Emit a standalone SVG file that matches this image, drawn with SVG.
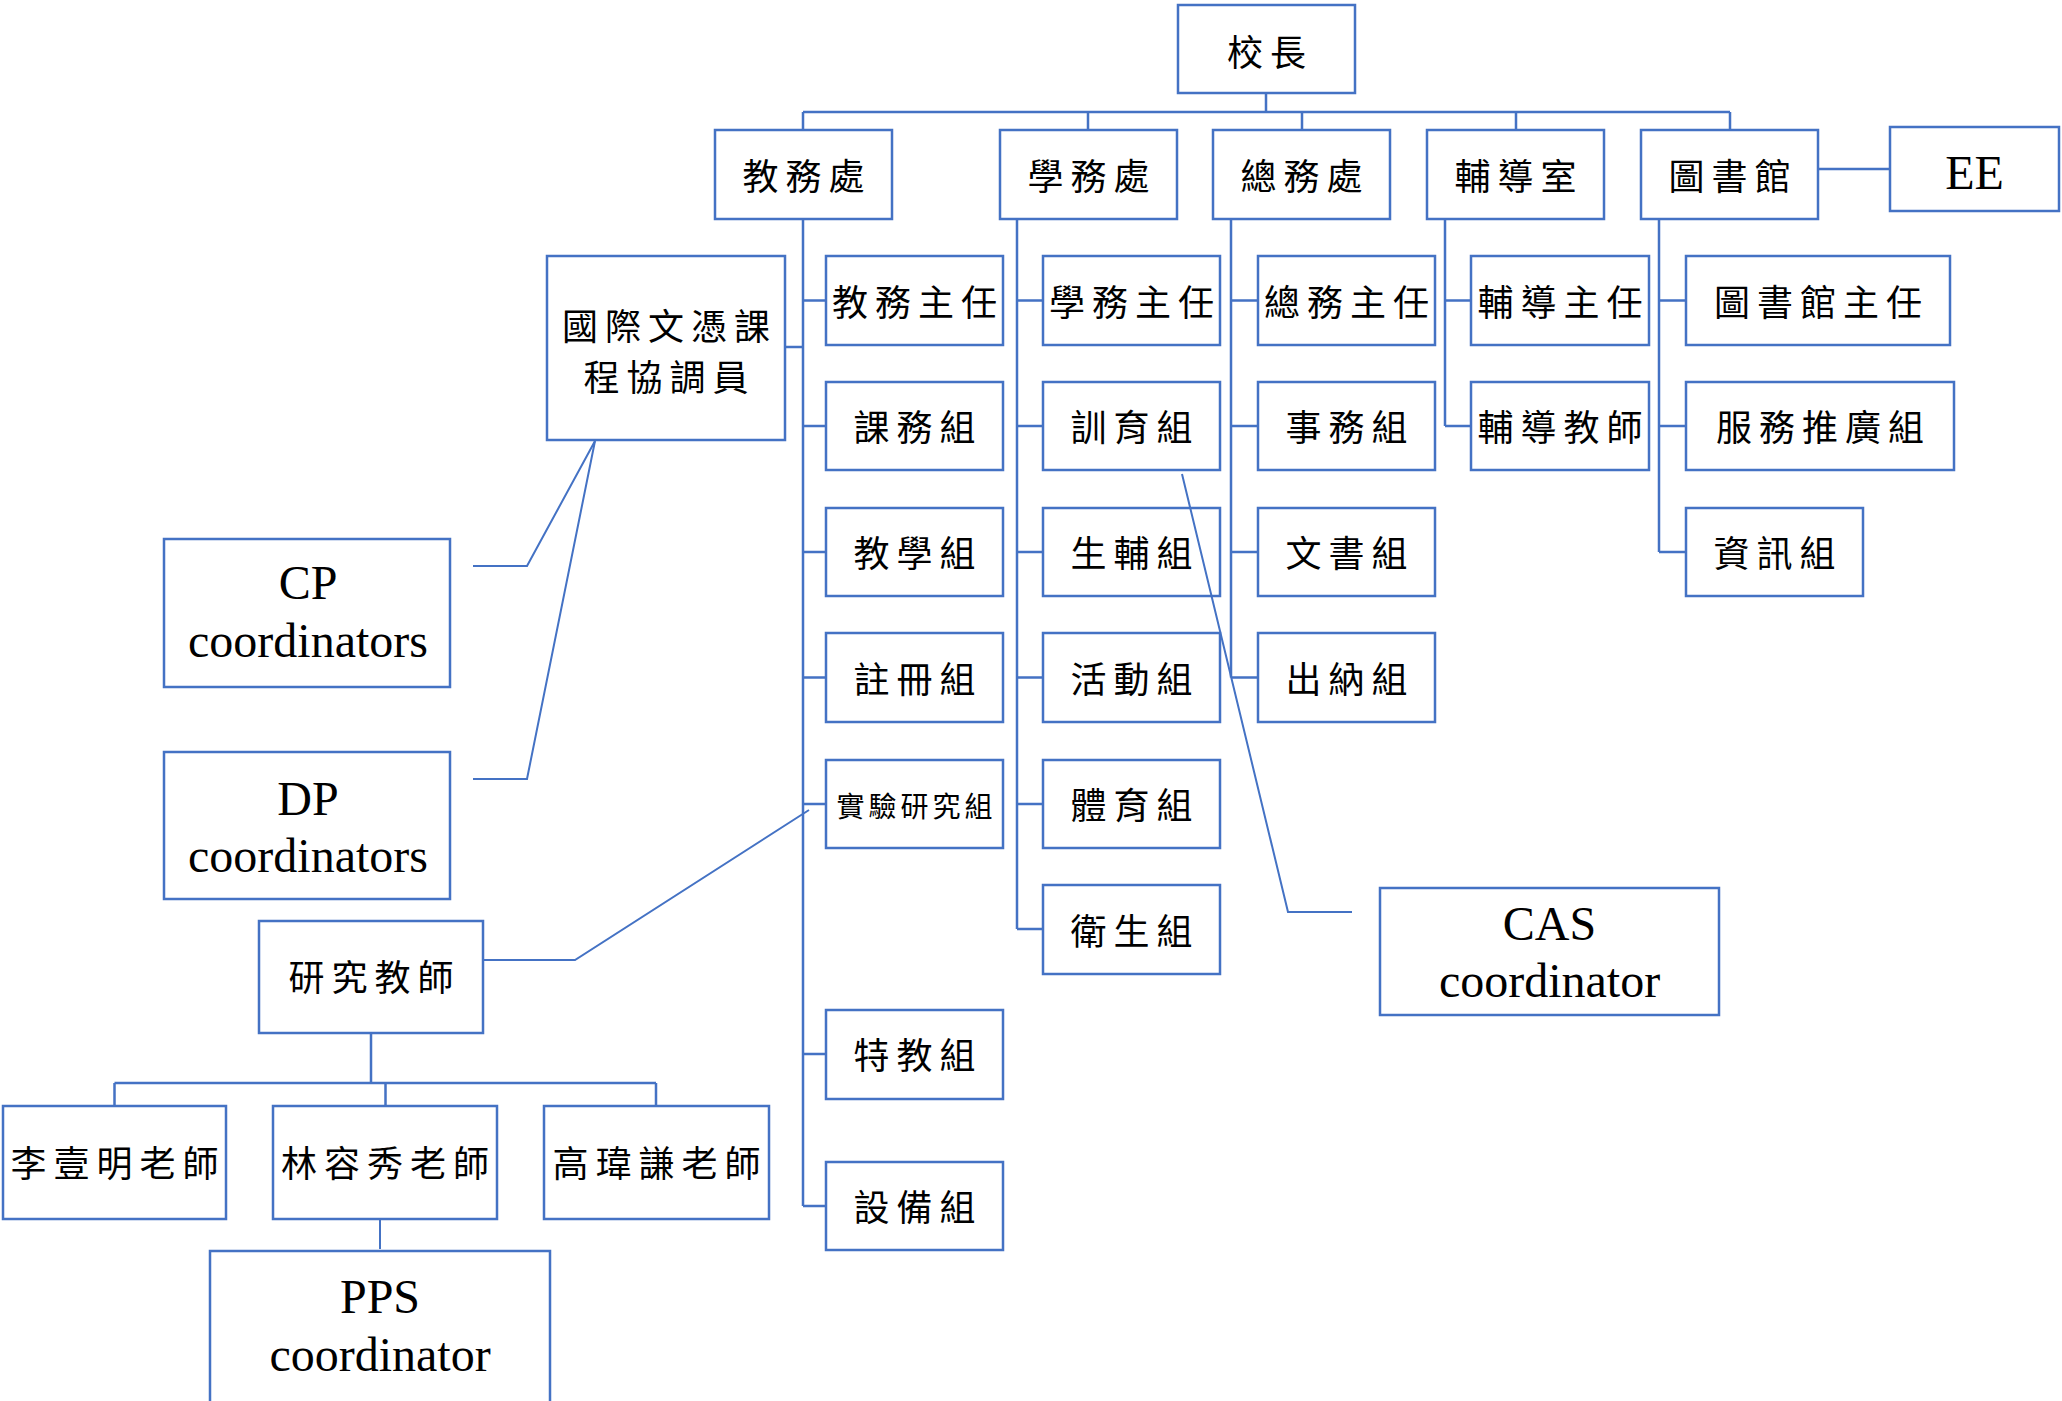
<svg xmlns="http://www.w3.org/2000/svg" width="2062" height="1401" viewBox="0 0 2062 1401">
<style>
.box{fill:#fff;stroke:#4472C4;stroke-width:2.5}
.ln{fill:none;stroke:#4472C4;stroke-width:2.5}
.thin{fill:none;stroke:#4472C4;stroke-width:2}
.zh{font-family:"Noto Sans CJK TC","Noto Sans CJK SC",sans-serif;font-size:36px;letter-spacing:7px;text-anchor:middle;fill:#000}
.zs{font-size:28px;letter-spacing:4px}
.en{font-family:"Liberation Serif","Times New Roman",serif;font-size:48px;text-anchor:middle;fill:#000}
</style>
<rect width="2062" height="1401" fill="#fff"/>
<g id="n-principal"><rect class="box" x="1178" y="5" width="177" height="88"/><text class="zh" x="1270" y="66">校長</text></g>
<g id="n-academic"><rect class="box" x="715" y="130" width="177" height="89"/><text class="zh" x="807" y="189.5">教務處</text></g>
<g id="n-student"><rect class="box" x="1000" y="130" width="177" height="89"/><text class="zh" x="1092" y="189.5">學務處</text></g>
<g id="n-general"><rect class="box" x="1213" y="130" width="177" height="89"/><text class="zh" x="1305" y="189.5">總務處</text></g>
<g id="n-counsel"><rect class="box" x="1427" y="130" width="177" height="89"/><text class="zh" x="1519" y="189.5">輔導室</text></g>
<g id="n-library"><rect class="box" x="1641" y="130" width="177" height="89"/><text class="zh" x="1733" y="189.5">圖書館</text></g>
<g id="n-ee"><rect class="box" x="1890" y="127" width="169" height="84"/><text class="en" x="1974.5" y="189">EE</text></g>

<g id="n-ib"><rect class="box" x="547" y="256" width="238" height="184"/><text class="zh" x="669.5" y="340">國際文憑課</text><text class="zh" x="669.5" y="391">程協調員</text></g>

<g id="n-a1"><rect class="box" x="826" y="256" width="177" height="89"/><text class="zh" x="918" y="315.5">教務主任</text></g>
<g id="n-a2"><rect class="box" x="826" y="382" width="177" height="88"/><text class="zh" x="918" y="441">課務組</text></g>
<g id="n-a3"><rect class="box" x="826" y="508" width="177" height="88"/><text class="zh" x="918" y="567">教學組</text></g>
<g id="n-a4"><rect class="box" x="826" y="633" width="177" height="89"/><text class="zh" x="918" y="692.5">註冊組</text></g>
<g id="n-a5"><rect class="box" x="826" y="760" width="177" height="88"/><text class="zh zs" x="916.5" y="817">實驗研究組</text></g>
<g id="n-a6"><rect class="box" x="826" y="1010" width="177" height="89"/><text class="zh" x="918" y="1069">特教組</text></g>
<g id="n-a7"><rect class="box" x="826" y="1162" width="177" height="88"/><text class="zh" x="918" y="1221">設備組</text></g>

<g id="n-s1"><rect class="box" x="1043" y="256" width="177" height="89"/><text class="zh" x="1135" y="315.5">學務主任</text></g>
<g id="n-s2"><rect class="box" x="1043" y="382" width="177" height="88"/><text class="zh" x="1135" y="441">訓育組</text></g>
<g id="n-s3"><rect class="box" x="1043" y="508" width="177" height="88"/><text class="zh" x="1135" y="567">生輔組</text></g>
<g id="n-s4"><rect class="box" x="1043" y="633" width="177" height="89"/><text class="zh" x="1135" y="692.5">活動組</text></g>
<g id="n-s5"><rect class="box" x="1043" y="760" width="177" height="88"/><text class="zh" x="1135" y="819">體育組</text></g>
<g id="n-s6"><rect class="box" x="1043" y="885" width="177" height="89"/><text class="zh" x="1135" y="944.5">衛生組</text></g>

<g id="n-g1"><rect class="box" x="1258" y="256" width="177" height="89"/><text class="zh" x="1350" y="315.5">總務主任</text></g>
<g id="n-g2"><rect class="box" x="1258" y="382" width="177" height="88"/><text class="zh" x="1350" y="441">事務組</text></g>
<g id="n-g3"><rect class="box" x="1258" y="508" width="177" height="88"/><text class="zh" x="1350" y="567">文書組</text></g>
<g id="n-g4"><rect class="box" x="1258" y="633" width="177" height="89"/><text class="zh" x="1350" y="692.5">出納組</text></g>

<g id="n-c1"><rect class="box" x="1471" y="256" width="178" height="89"/><text class="zh" x="1563.5" y="315.5">輔導主任</text></g>
<g id="n-c2"><rect class="box" x="1471" y="382" width="178" height="88"/><text class="zh" x="1563.5" y="441">輔導教師</text></g>

<g id="n-l1"><rect class="box" x="1686" y="256" width="264" height="89"/><text class="zh" x="1821.5" y="315.5">圖書館主任</text></g>
<g id="n-l2"><rect class="box" x="1686" y="382" width="268" height="88"/><text class="zh" x="1823.5" y="441">服務推廣組</text></g>
<g id="n-l3"><rect class="box" x="1686" y="508" width="177" height="88"/><text class="zh" x="1778" y="567">資訊組</text></g>

<g id="n-cp"><rect class="box" x="164" y="539" width="286" height="148"/><text class="en" x="308" y="599">CP</text><text class="en" x="308" y="657">coordinators</text></g>
<g id="n-dp"><rect class="box" x="164" y="752" width="286" height="147"/><text class="en" x="308" y="815">DP</text><text class="en" x="308" y="872">coordinators</text></g>
<g id="n-cas"><rect class="box" x="1380" y="888" width="339" height="127"/><text class="en" x="1549.5" y="940">CAS</text><text class="en" x="1549.5" y="997">coordinator</text></g>

<g id="n-research"><rect class="box" x="259" y="921" width="224" height="112"/><text class="zh" x="374.5" y="991">研究教師</text></g>
<g id="n-t1"><rect class="box" x="3" y="1106" width="223" height="113"/><text class="zh" x="118" y="1177">李壹明老師</text></g>
<g id="n-t2"><rect class="box" x="273" y="1106" width="224" height="113"/><text class="zh" x="388.5" y="1177">林容秀老師</text></g>
<g id="n-t3"><rect class="box" x="544" y="1106" width="225" height="113"/><text class="zh" x="660" y="1177">高瑋謙老師</text></g>
<g id="n-pps"><rect class="box" x="210" y="1251" width="340" height="170"/><text class="en" x="380" y="1313">PPS</text><text class="en" x="380" y="1371">coordinator</text></g>

<g id="connectors">
  <path class="ln" d="M1266,93V112M803,112H1730M803,112V130M1088,112V130M1302,112V130M1516,112V130M1730,112V130"/>
  <path class="ln" d="M1818,169H1890"/>
  <path class="ln" d="M803,219V1206M803,300.5H826M803,426H826M803,552H826M803,677.5H826M803,804H826M803,1054H826M803,1206H826"/>
  <path class="ln" d="M785,347H803"/>
  <path class="ln" d="M1017,219V929M1017,300.5H1043M1017,426H1043M1017,552H1043M1017,677.5H1043M1017,804H1043M1017,929H1043"/>
  <path class="ln" d="M1231,219V677.5M1231,300.5H1258M1231,426H1258M1231,552H1258M1231,677.5H1258"/>
  <path class="ln" d="M1445,219V426M1445,300.5H1471M1445,426H1471"/>
  <path class="ln" d="M1659,219V552M1659,300.5H1686M1659,426H1686M1659,552H1686"/>
  <path class="thin" d="M473,566H527L595,441"/>
  <path class="thin" d="M473,779H527L595,441"/>
  <path class="thin" d="M483,960H575L809,810"/>
  <path class="thin" d="M1182,474L1288,912H1352"/>
  <path class="ln" d="M371,1033V1083M114.5,1083H656M114.5,1083V1106M385.5,1083V1106M656,1083V1106"/>
  <path class="thin" d="M380,1219V1249"/>
</g>
</svg>
